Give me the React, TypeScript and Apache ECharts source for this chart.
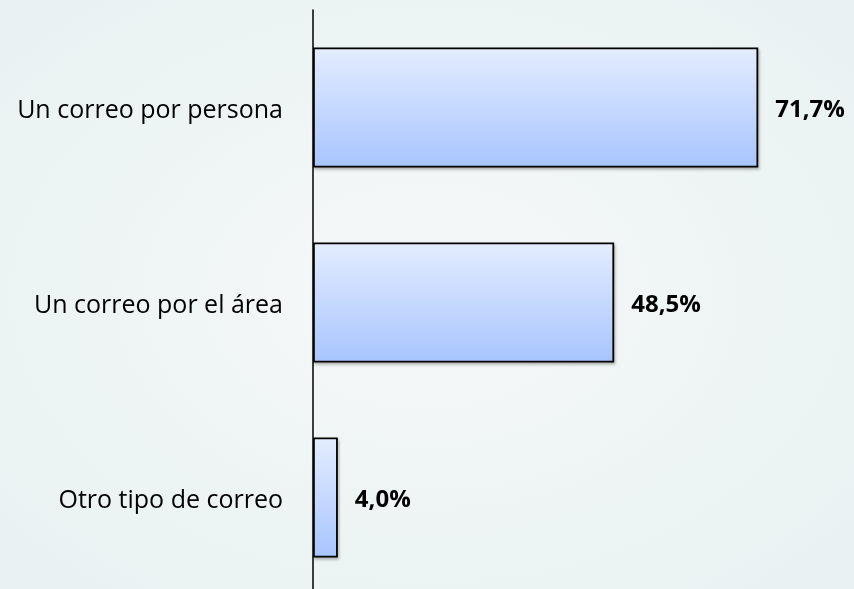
import React, { useEffect, useRef } from "react";
import * as echarts from "echarts";

const categories = ["Un correo por persona", "Un correo por el área", "Otro tipo de correo"];
const values = [71.7, 48.5, 4.0];
const valueLabels = ["71,7%", "48,5%", "4,0%"];

export default function App() {
  const ref = useRef<HTMLDivElement>(null);
  useEffect(() => {
    const chart = echarts.init(ref.current!, null, { renderer: "svg" });
    chart.setOption({
      animation: false,
      backgroundColor: {
        type: "radial",
        x: 0.5,
        y: 0.5,
        r: 0.75,
        colorStops: [
          { offset: 0, color: "#f6f8f8" },
          { offset: 1, color: "#e7f1f1" },
        ],
      },
      grid: { left: 313, top: 10, width: 621, height: 585, outerBoundsMode: "none", containLabel: false },
      xAxis: {
        type: "value",
        min: 0,
        max: 100,
        show: false,
      },
      yAxis: {
        type: "category",
        data: categories,
        inverse: true,
        axisLine: { show: true, lineStyle: { color: "#000", width: 1.5 } },
        axisTick: { show: false },
        axisLabel: {
          margin: 30,
          fontFamily: "Open Sans",
          fontSize: 25,
          color: "#000",
        },
      },
      series: [
        {
          type: "bar",
          data: values.map((v, i) => ({
            value: v,
            label: { formatter: valueLabels[i] },
          })),
          barWidth: 120,
          itemStyle: {
            color: {
              type: "linear",
              x: 0,
              y: 0,
              x2: 0,
              y2: 1,
              colorStops: [
                { offset: 0, color: "#e3ecff" },
                { offset: 1, color: "#a8c5fe" },
              ],
            },
            borderColor: "#000",
            borderWidth: 1.8,
            shadowColor: "rgba(0,0,0,0.3)",
            shadowBlur: 3,
            shadowOffsetX: 1,
            shadowOffsetY: 2,
          },
          label: {
            show: true,
            position: "right",
            distance: 17,
            fontFamily: "Open Sans",
            fontWeight: "bold",
            fontSize: 24,
            color: "#000",
          },
        },
      ],
    });
    return () => chart.dispose();
  }, []);
  return (
    <div
      ref={ref}
      style={{ position: "fixed", left: 0, top: 0, width: 854, height: 589 }}
    />
  );
}
